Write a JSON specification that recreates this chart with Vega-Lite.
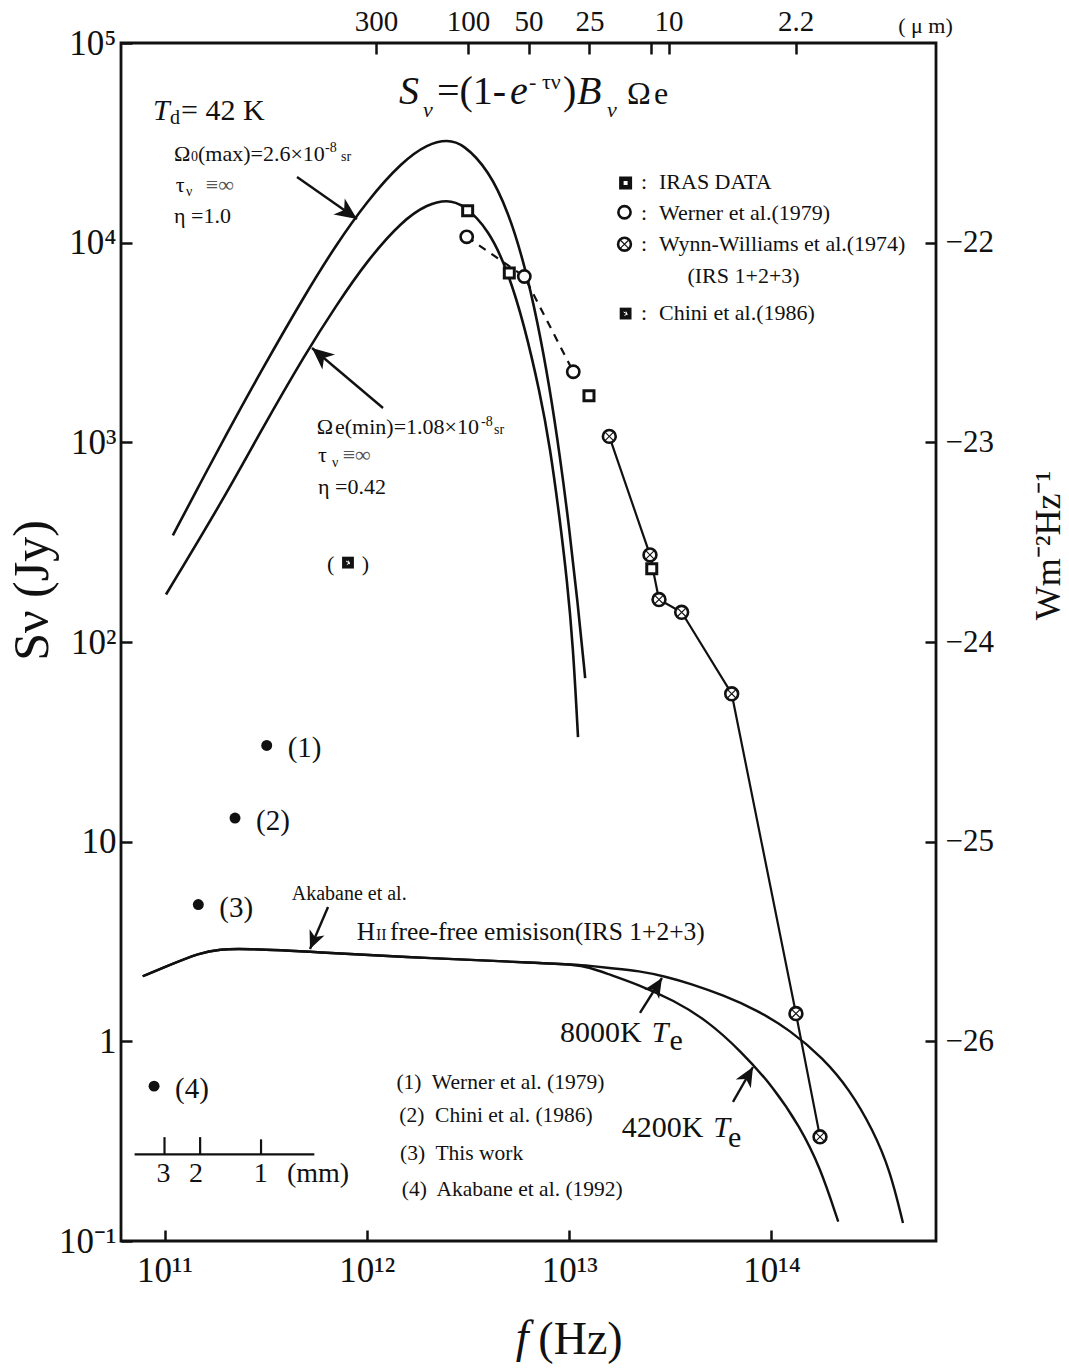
{
  "$schema": "https://vega.github.io/schema/vega-lite/v6.json",
  "width": 815,
  "height": 1198,
  "autosize": {"type": "none"},
  "padding": {"left": 121, "top": 43, "right": 133, "bottom": 131},
  "background": "white",
  "config": {
    "view": {"stroke": "#111", "strokeWidth": 2.8},
    "font": "Liberation Serif",
    "axis": {
      "grid": false, "domain": false, "ticks": true,
      "tickColor": "#111", "tickWidth": 2.5, "tickSize": -11,
      "labelFont": "Liberation Serif", "labelColor": "#111",
      "titleFont": "Liberation Serif", "titleColor": "#111", "titleFontWeight": "normal",
      "labelFlush": false, "labelOverlap": false, "labelBound": false
    }
  },
  "datasets": {
    "bbUpper": [
      {"f": 1.1e11, "S": 342}, {"f": 1.5e11, "S": 622}, {"f": 2e11, "S": 1074}, {"f": 3e11, "S": 2275},
      {"f": 5e11, "S": 5589}, {"f": 7e11, "S": 9647}, {"f": 1e12, "S": 16140}, {"f": 1.5e12, "S": 25550},
      {"f": 2e12, "S": 31220}, {"f": 2.5e12, "S": 32820}, {"f": 3e12, "S": 31200}, {"f": 4e12, "S": 23070},
      {"f": 5e12, "S": 14290}, {"f": 6e12, "S": 7843}, {"f": 7e12, "S": 3967}, {"f": 8e12, "S": 1891},
      {"f": 9e12, "S": 858}, {"f": 1e13, "S": 376}, {"f": 1.1e13, "S": 160}, {"f": 1.2e13, "S": 66}
    ],
    "bbLower": [
      {"f": 1.017e11, "S": 172.9}, {"f": 1.991e11, "S": 534.8}, {"f": 2.999e11, "S": 1144}, {"f": 5.004e11, "S": 2810},
      {"f": 7.04e11, "S": 4830}, {"f": 1.0017e12, "S": 8113}, {"f": 1.4916e12, "S": 12860}, {"f": 2.006e12, "S": 15640},
      {"f": 2.49e12, "S": 16380}, {"f": 2.988e12, "S": 15640}, {"f": 4.017e12, "S": 11600}, {"f": 4.985e12, "S": 7145},
      {"f": 5.98e12, "S": 3925}, {"f": 7.176e12, "S": 1772}, {"f": 8.04e12, "S": 951}, {"f": 9.01e12, "S": 405},
      {"f": 9.757e12, "S": 204.4}, {"f": 1.0447e13, "S": 96.6}, {"f": 1.106e13, "S": 33.4}
    ],
    "ff8000": [
      {"f": 7.8e10, "S": 2.118}, {"f": 1.0254e11, "S": 2.377}, {"f": 1.498e11, "S": 2.78}, {"f": 1.881e11, "S": 2.89},
      {"f": 2.452e11, "S": 2.916}, {"f": 5.437e11, "S": 2.804}, {"f": 2.131e12, "S": 2.598}, {"f": 7.177e12, "S": 2.47},
      {"f": 1.0483e13, "S": 2.425}, {"f": 1.268e13, "S": 2.39}, {"f": 1.533e13, "S": 2.332}, {"f": 2.239e13, "S": 2.253},
      {"f": 3.034e13, "S": 2.102}, {"f": 3.956e13, "S": 1.948}, {"f": 5.78e13, "S": 1.702}, {"f": 8.454e13, "S": 1.436},
      {"f": 1.2345e14, "S": 1.139}, {"f": 1.797e14, "S": 0.8254}, {"f": 2.443e14, "S": 0.5706}, {"f": 3.175e14, "S": 0.3597},
      {"f": 3.852e14, "S": 0.2268}, {"f": 4.466e14, "S": 0.1231}
    ],
    "ff4200": [
      {"f": 7.8e10, "S": 2.118}, {"f": 1.0254e11, "S": 2.377}, {"f": 1.498e11, "S": 2.78}, {"f": 1.881e11, "S": 2.89},
      {"f": 2.452e11, "S": 2.916}, {"f": 5.437e11, "S": 2.804}, {"f": 2.131e12, "S": 2.598}, {"f": 7.177e12, "S": 2.47},
      {"f": 1.0483e13, "S": 2.425}, {"f": 1.268e13, "S": 2.344}, {"f": 1.533e13, "S": 2.186}, {"f": 2.239e13, "S": 1.91},
      {"f": 3.271e13, "S": 1.607}, {"f": 4.785e13, "S": 1.276}, {"f": 6.99e13, "S": 0.9031}, {"f": 1.021e14, "S": 0.5916},
      {"f": 1.383e14, "S": 0.373}, {"f": 1.737e14, "S": 0.2353}, {"f": 2.138e14, "S": 0.1249}
    ],
    "sym": [
      {"sym": "iras", "src": "d", "f": 3.15e12, "S": 14430},
      {"sym": "iras", "src": "d", "f": 5.06e12, "S": 7039},
      {"sym": "iras", "src": "d", "f": 1.253e13, "S": 1712},
      {"sym": "iras", "src": "d", "f": 2.56e13, "S": 232.4},
      {"sym": "iras", "src": "leg", "f": 1.901e13, "S": 19880},
      {"sym": "werner", "src": "d", "f": 3.116e12, "S": 10700},
      {"sym": "werner", "src": "d", "f": 6.003e12, "S": 6769},
      {"sym": "werner", "src": "d", "f": 1.048e13, "S": 2257},
      {"sym": "werner", "src": "leg", "f": 1.877e13, "S": 14200},
      {"sym": "ww", "src": "d", "f": 1.579e13, "S": 1071},
      {"sym": "ww", "src": "d", "f": 2.509e13, "S": 273.1},
      {"sym": "ww", "src": "d", "f": 2.78e13, "S": 163.2},
      {"sym": "ww", "src": "d", "f": 3.598e13, "S": 140.9},
      {"sym": "ww", "src": "d", "f": 6.358e13, "S": 55.05},
      {"sym": "ww", "src": "d", "f": 1.321e14, "S": 1.378},
      {"sym": "ww", "src": "d", "f": 1.737e14, "S": 0.3324},
      {"sym": "ww", "src": "leg", "f": 1.877e13, "S": 9820},
      {"sym": "chini", "src": "d", "f": 8.07e11, "S": 249.8},
      {"sym": "chini", "src": "leg", "f": 1.901e13, "S": 4415}
    ],
    "dots": [
      {"f": 3.2e11, "S": 30.34, "lbl": "(1)"},
      {"f": 2.231e11, "S": 13.13, "lbl": "(2)"},
      {"f": 1.469e11, "S": 4.84, "lbl": "(3)"},
      {"f": 8.88e10, "S": 0.5965, "lbl": "(4)"}
    ],
    "arrows": [
      {"id": "a", "f": 8.94e11, "S": 13140, "f2": 4.518e11, "S2": 21320},
      {"id": "b", "f": 5.358e11, "S": 2968, "f2": 1.2021e12, "S2": 1486},
      {"id": "c", "f": 5.237e11, "S": 2.901, "f2": 6.43e11, "S2": 4.708},
      {"id": "d", "f": 2.876e13, "S": 2.076, "f2": 2.239e13, "S2": 1.387},
      {"id": "e", "f": 8.1e13, "S": 0.7437, "f2": 6.453e13, "S2": 0.497}
    ],
    "mm": [
      {"f": 7.115e10, "S": 0.2716, "f2": 5.501e11, "S2": 0.2716},
      {"f": 1e11, "S": 0.2716, "f2": 1e11, "S2": 0.3313},
      {"f": 1.5e11, "S": 0.2716, "f2": 1.5e11, "S2": 0.3313},
      {"f": 3e11, "S": 0.2716, "f2": 3e11, "S2": 0.3229}
    ],
    "texts": [
      {"g": "i40", "t": "S", "f": 1.442e12, "S": 49510},
      {"g": "i22", "t": "ν", "f": 1.895e12, "S": 42630},
      {"g": "n40", "t": "=(1-", "f": 2.222e12, "S": 49510},
      {"g": "i40", "t": "e", "f": 5.1e12, "S": 49510},
      {"g": "n22", "t": "-", "f": 6.332e12, "S": 58870},
      {"g": "n22", "t": "τν", "f": 7.34e12, "S": 58870},
      {"g": "n40", "t": ")", "f": 9.322e12, "S": 49510},
      {"g": "i40", "t": "B", "f": 1.0935e13, "S": 49510},
      {"g": "i22", "t": "ν", "f": 1.538e13, "S": 42630},
      {"g": "n32", "t": "Ω", "f": 1.931e13, "S": 49510},
      {"g": "n32", "t": "e", "f": 2.627e13, "S": 49510},
      {"g": "i30", "t": "T", "f": 8.776e10, "S": 41190},
      {"g": "n20", "t": "d", "f": 1.065e11, "S": 39330},
      {"g": "n30", "t": "= 42 K", "f": 1.207e11, "S": 41190},
      {"g": "n22", "t": "Ω", "f": 1.114e11, "S": 25670},
      {"g": "s14", "t": "0", "f": 1.352e11, "S": 25670},
      {"g": "n22", "t": "(max)=2.6×10", "f": 1.464e11, "S": 25670},
      {"g": "s14", "t": "-8", "f": 6.214e11, "S": 28480},
      {"g": "s14", "t": "sr", "f": 7.454e11, "S": 25670},
      {"g": "n22", "t": "τ", "f": 1.135e11, "S": 17970},
      {"g": "s14", "t": "ν", "f": 1.277e11, "S": 17160},
      {"g": "g22", "t": "≡∞", "f": 1.6e11, "S": 17970},
      {"g": "n22", "t": "η =1.0", "f": 1.114e11, "S": 12570},
      {"g": "n22", "t": "Ω", "f": 5.651e11, "S": 1105},
      {"g": "n22", "t": "e(min)=1.08×10", "f": 6.962e11, "S": 1105},
      {"g": "s14", "t": "-8", "f": 3.667e12, "S": 1212},
      {"g": "s14", "t": "sr", "f": 4.253e12, "S": 1105},
      {"g": "n22", "t": "τ", "f": 5.736e11, "S": 793.6},
      {"g": "s14", "t": "ν", "f": 6.73e11, "S": 755.2},
      {"g": "g22", "t": "≡∞", "f": 7.6e11, "S": 793.6},
      {"g": "n22", "t": "η =0.42", "f": 5.736e11, "S": 551.4},
      {"g": "n22", "t": ":", "f": 2.265e13, "S": 18510},
      {"g": "n22", "t": ":", "f": 2.265e13, "S": 12960},
      {"g": "n22", "t": ":", "f": 2.265e13, "S": 9070},
      {"g": "n22", "t": ":", "f": 2.265e13, "S": 4110},
      {"g": "n22", "t": "IRAS DATA", "f": 2.78e13, "S": 18510},
      {"g": "n22", "t": "Werner et al.(1979)", "f": 2.78e13, "S": 12960},
      {"g": "n22", "t": "Wynn-Williams et al.(1974)", "f": 2.78e13, "S": 9070},
      {"g": "n22", "t": "(IRS 1+2+3)", "f": 3.841e13, "S": 6252},
      {"g": "n22", "t": "Chini et al.(1986)", "f": 2.78e13, "S": 4110},
      {"g": "n20", "t": "Akabane et al.", "f": 4.253e11, "S": 5.127},
      {"g": "n24", "t": "H", "f": 8.91e11, "S": 3.234},
      {"g": "s16", "t": "II", "f": 1.11e12, "S": 3.234},
      {"g": "n24", "t": "free-free emisison(IRS 1+2+3)", "f": 1.3017e12, "S": 3.234},
      {"g": "n30", "t": "8000K", "f": 9.01e12, "S": 0.9935},
      {"g": "i30", "t": "T", "f": 2.558e13, "S": 0.9935},
      {"g": "n30", "t": "e", "f": 3.134e13, "S": 0.9031},
      {"g": "n30", "t": "4200K", "f": 1.818e13, "S": 0.3324},
      {"g": "i30", "t": "T", "f": 5.157e13, "S": 0.3324},
      {"g": "n30", "t": "e", "f": 6.095e13, "S": 0.2962},
      {"g": "n21", "t": "(1)\u00a0 Werner et al. (1979)", "f": 1.4005e12, "S": 0.5762},
      {"g": "n21", "t": "(2)\u00a0 Chini et al. (1986)", "f": 1.447e12, "S": 0.394},
      {"g": "n21", "t": "(3)\u00a0 This work", "f": 1.4585e12, "S": 0.2542},
      {"g": "n21", "t": "(4)\u00a0 Akabane et al. (1992)", "f": 1.489e12, "S": 0.1679},
      {"g": "mm", "t": "3", "f": 9.9e10, "S": 0.1973},
      {"g": "mm", "t": "2", "f": 1.431e11, "S": 0.1973},
      {"g": "mm", "t": "1", "f": 2.989e11, "S": 0.1973},
      {"g": "mm", "t": "(mm)", "f": 5.736e11, "S": 0.1973},
      {"g": "i46", "t": "f", "f": 5.45e12, "S": 0.0278}
    ]
  },
  "resolve": {"scale": {"x": "independent", "y": "independent"}, "axis": {"x": "independent", "y": "independent"}},
  "layer": [
    {
      "encoding": {
        "x": {
          "field": "f", "type": "quantitative",
          "scale": {"type": "log", "domain": [6.095e10, 6.503e14], "nice": false, "zero": false},
          "axis": {
            "orient": "bottom", "values": [1e11, 1e12, 1e13, 1e14],
            "labelExpr": "datum.value < 5e11 ? '10¹¹' : datum.value < 5e12 ? '10¹²' : datum.value < 5e13 ? '10¹³' : '10¹⁴'",
            "labelFontSize": 35, "labelPadding": 23,
            "title": "(Hz)", "titleFontSize": 46, "titleX": 459, "titleY": 112,
            "titleAlign": "center", "titleBaseline": "alphabetic", "titleAnchor": null
          }
        },
        "y": {
          "field": "S", "type": "quantitative",
          "scale": {"type": "log", "domain": [0.1, 100000], "nice": false, "zero": false},
          "axis": {
            "orient": "left", "values": [0.1, 1, 10, 100, 1000, 10000, 100000],
            "labelExpr": "datum.value < 0.5 ? '10⁻¹' : datum.value < 5 ? '1' : datum.value < 50 ? '10' : datum.value < 500 ? '10²' : datum.value < 5000 ? '10³' : datum.value < 50000 ? '10⁴' : '10⁵'",
            "labelFontSize": 35, "labelPadding": 16,
            "title": "Sν (Jy)", "titleFontSize": 50, "titleAngle": -90, "titleX": -74, "titleY": 547,
            "titleAlign": "center", "titleBaseline": "alphabetic"
          }
        }
      },
      "layer": [
        {"data": {"name": "bbUpper"}, "mark": {"type": "line", "color": "#111", "strokeWidth": 2.6, "interpolate": "basis"}},
        {"data": {"name": "bbLower"}, "mark": {"type": "line", "color": "#111", "strokeWidth": 2.6, "interpolate": "basis"}},
        {"data": {"name": "ff8000"}, "mark": {"type": "line", "color": "#111", "strokeWidth": 2.4, "interpolate": "basis"}},
        {"data": {"name": "ff4200"}, "mark": {"type": "line", "color": "#111", "strokeWidth": 2.4, "interpolate": "basis"}},
        {"data": {"name": "sym"}, "transform": [{"filter": "datum.sym === 'werner' && datum.src === 'd'"}],
         "mark": {"type": "line", "color": "#111", "strokeWidth": 2.2, "strokeDash": [8, 7]}},
        {"data": {"name": "sym"}, "transform": [{"filter": "datum.sym === 'ww' && datum.src === 'd'"}],
         "mark": {"type": "line", "color": "#111", "strokeWidth": 2.2}},
        {"data": {"name": "arrows"}, "mark": {"type": "rule", "color": "#111", "strokeWidth": 2.4},
         "encoding": {"x2": {"field": "f2"}, "y2": {"field": "S2"}}},
        {"data": {"name": "arrows"}, "transform": [{"filter": "datum.id === 'a'"}],
         "mark": {"type": "point", "shape": "M0,0L-1,-0.45L-0.72,0L-1,0.45Z", "size": 1900, "angle": 35, "filled": true, "fill": "#111", "strokeWidth": 0, "opacity": 1}},
        {"data": {"name": "arrows"}, "transform": [{"filter": "datum.id === 'b'"}],
         "mark": {"type": "point", "shape": "M0,0L-1,-0.45L-0.72,0L-1,0.45Z", "size": 1900, "angle": 220, "filled": true, "fill": "#111", "strokeWidth": 0, "opacity": 1}},
        {"data": {"name": "arrows"}, "transform": [{"filter": "datum.id === 'c'"}],
         "mark": {"type": "point", "shape": "M0,0L-1,-0.45L-0.72,0L-1,0.45Z", "size": 1300, "angle": 113, "filled": true, "fill": "#111", "strokeWidth": 0, "opacity": 1}},
        {"data": {"name": "arrows"}, "transform": [{"filter": "datum.id === 'd'"}],
         "mark": {"type": "point", "shape": "M0,0L-1,-0.45L-0.72,0L-1,0.45Z", "size": 1500, "angle": 302, "filled": true, "fill": "#111", "strokeWidth": 0, "opacity": 1}},
        {"data": {"name": "arrows"}, "transform": [{"filter": "datum.id === 'e'"}],
         "mark": {"type": "point", "shape": "M0,0L-1,-0.45L-0.72,0L-1,0.45Z", "size": 1500, "angle": 300, "filled": true, "fill": "#111", "strokeWidth": 0, "opacity": 1}},
        {"data": {"name": "mm"}, "mark": {"type": "rule", "color": "#111", "strokeWidth": 2.2},
         "encoding": {"x2": {"field": "f2"}, "y2": {"field": "S2"}}},
        {"data": {"name": "sym"}, "transform": [{"filter": "datum.sym === 'werner'"}],
         "mark": {"type": "point", "shape": "circle", "size": 150, "filled": true, "fill": "white", "stroke": "#111", "strokeWidth": 2.6, "opacity": 1}},
        {"data": {"name": "sym"}, "transform": [{"filter": "datum.sym === 'ww'"}],
         "mark": {"type": "point", "shape": "circle", "size": 165, "filled": true, "fill": "white", "stroke": "#111", "strokeWidth": 2.6, "opacity": 1}},
        {"data": {"name": "sym"}, "transform": [{"filter": "datum.sym === 'ww'"}],
         "mark": {"type": "point", "shape": "M-0.62,-0.62L0.62,0.62M-0.62,0.62L0.62,-0.62", "size": 165, "filled": false, "stroke": "#111", "strokeWidth": 1.1, "opacity": 1}},
        {"data": {"name": "sym"}, "transform": [{"filter": "datum.sym === 'iras' && datum.src === 'd'"}],
         "mark": {"type": "point", "shape": "square", "size": 100, "filled": true, "fill": "white", "stroke": "#111", "strokeWidth": 3, "opacity": 1}},
        {"data": {"name": "sym"}, "transform": [{"filter": "datum.sym === 'iras' && datum.src === 'leg'"}],
         "mark": {"type": "point", "shape": "square", "size": 72, "filled": true, "fill": "white", "stroke": "#111", "strokeWidth": 4.5, "opacity": 1}},
        {"data": {"name": "sym"}, "transform": [{"filter": "datum.sym === 'chini'"}],
         "mark": {"type": "point", "shape": "square", "size": 140, "filled": true, "fill": "#111", "strokeWidth": 0, "opacity": 1}},
        {"data": {"name": "sym"}, "transform": [{"filter": "datum.sym === 'chini'"}],
         "mark": {"type": "point", "shape": "M-0.5,-0.4L0.4,0.1L-0.3,0.5M0.1,-0.5L0.4,0.4", "size": 60, "filled": false, "stroke": "white", "strokeWidth": 1, "opacity": 1}},
        {"data": {"name": "sym"}, "transform": [{"filter": "datum.sym === 'chini' && datum.src === 'd'"}],
         "mark": {"type": "text", "fontSize": 22, "align": "center", "baseline": "middle", "dy": 1, "color": "#111"},
         "encoding": {"text": {"value": "(\u00a0\u00a0\u00a0\u00a0\u00a0)"}}},
        {"data": {"name": "dots"}, "mark": {"type": "point", "shape": "circle", "size": 120, "filled": true, "fill": "#111", "strokeWidth": 0, "opacity": 1}},
        {"data": {"name": "dots"}, "mark": {"type": "text", "fontSize": 29, "align": "left", "baseline": "middle", "dx": 21, "dy": 3, "color": "#111"},
         "encoding": {"text": {"field": "lbl"}}},
        {"data": {"name": "texts"}, "transform": [{"filter": "datum.g === 'n22'"}],
         "mark": {"type": "text", "fontSize": 22, "align": "left", "baseline": "alphabetic", "color": "#111"}, "encoding": {"text": {"field": "t"}}},
        {"data": {"name": "texts"}, "transform": [{"filter": "datum.g === 's14'"}],
         "mark": {"type": "text", "fontSize": 14, "align": "left", "baseline": "alphabetic", "color": "#111"}, "encoding": {"text": {"field": "t"}}},
        {"data": {"name": "texts"}, "transform": [{"filter": "datum.g === 's16'"}],
         "mark": {"type": "text", "fontSize": 16, "align": "left", "baseline": "alphabetic", "color": "#111"}, "encoding": {"text": {"field": "t"}}},
        {"data": {"name": "texts"}, "transform": [{"filter": "datum.g === 'g22'"}],
         "mark": {"type": "text", "fontSize": 22, "align": "left", "baseline": "alphabetic", "color": "#555"}, "encoding": {"text": {"field": "t"}}},
        {"data": {"name": "texts"}, "transform": [{"filter": "datum.g === 'i22'"}],
         "mark": {"type": "text", "fontSize": 22, "fontStyle": "italic", "align": "left", "baseline": "alphabetic", "color": "#111"}, "encoding": {"text": {"field": "t"}}},
        {"data": {"name": "texts"}, "transform": [{"filter": "datum.g === 'n20'"}],
         "mark": {"type": "text", "fontSize": 20, "align": "left", "baseline": "alphabetic", "color": "#111"}, "encoding": {"text": {"field": "t"}}},
        {"data": {"name": "texts"}, "transform": [{"filter": "datum.g === 'n21'"}],
         "mark": {"type": "text", "fontSize": 21.5, "align": "left", "baseline": "alphabetic", "color": "#111"}, "encoding": {"text": {"field": "t"}}},
        {"data": {"name": "texts"}, "transform": [{"filter": "datum.g === 'n24'"}],
         "mark": {"type": "text", "fontSize": 25.5, "align": "left", "baseline": "alphabetic", "color": "#111"}, "encoding": {"text": {"field": "t"}}},
        {"data": {"name": "texts"}, "transform": [{"filter": "datum.g === 'n30'"}],
         "mark": {"type": "text", "fontSize": 30, "align": "left", "baseline": "alphabetic", "color": "#111"}, "encoding": {"text": {"field": "t"}}},
        {"data": {"name": "texts"}, "transform": [{"filter": "datum.g === 'i30'"}],
         "mark": {"type": "text", "fontSize": 30, "fontStyle": "italic", "align": "left", "baseline": "alphabetic", "color": "#111"}, "encoding": {"text": {"field": "t"}}},
        {"data": {"name": "texts"}, "transform": [{"filter": "datum.g === 'n32'"}],
         "mark": {"type": "text", "fontSize": 32, "align": "left", "baseline": "alphabetic", "color": "#111"}, "encoding": {"text": {"field": "t"}}},
        {"data": {"name": "texts"}, "transform": [{"filter": "datum.g === 'n40'"}],
         "mark": {"type": "text", "fontSize": 40, "align": "left", "baseline": "alphabetic", "color": "#111"}, "encoding": {"text": {"field": "t"}}},
        {"data": {"name": "texts"}, "transform": [{"filter": "datum.g === 'i40'"}],
         "mark": {"type": "text", "fontSize": 40, "fontStyle": "italic", "align": "left", "baseline": "alphabetic", "color": "#111"}, "encoding": {"text": {"field": "t"}}},
        {"data": {"name": "texts"}, "transform": [{"filter": "datum.g === 'i46'"}],
         "mark": {"type": "text", "fontSize": 46, "fontStyle": "italic", "align": "left", "baseline": "alphabetic", "color": "#111"}, "encoding": {"text": {"field": "t"}}},
        {"data": {"name": "texts"}, "transform": [{"filter": "datum.g === 'mm'"}],
         "mark": {"type": "text", "fontSize": 28, "align": "center", "baseline": "alphabetic", "color": "#111"}, "encoding": {"text": {"field": "t"}}}
      ]
    },
    {
      "data": {"values": [{"f": 1e12, "S": 1}]},
      "mark": {"type": "point", "opacity": 0},
      "encoding": {
        "x": {
          "field": "f", "type": "quantitative",
          "scale": {"type": "log", "domain": [6.095e10, 6.503e14], "nice": false, "zero": false},
          "axis": {
            "orient": "top", "values": [1.11e12, 3.16e12, 6.3e12, 1.26e13, 2.54e13, 3.1e13, 1.317e14],
            "labelExpr": "datum.value < 2e12 ? '300' : datum.value < 4.5e12 ? '100' : datum.value < 9e12 ? '50' : datum.value < 2e13 ? '25' : datum.value < 2.8e13 ? '' : datum.value < 6e13 ? '10' : '2.2'",
            "labelFontSize": 29, "labelPadding": 18,
            "title": "( μ m)", "titleFontSize": 22, "titleAngle": 0, "titleX": 804, "titleY": -11,
            "titleAlign": "center", "titleBaseline": "alphabetic"
          }
        },
        "y": {
          "field": "S", "type": "quantitative",
          "scale": {"type": "log", "domain": [0.1, 100000], "nice": false, "zero": false},
          "axis": {
            "orient": "right", "values": [1, 10, 100, 1000, 10000],
            "labelExpr": "format(round(log(datum.value) / LN10) - 26, 'd')",
            "labelFontSize": 31, "labelPadding": 20,
            "title": "Wm⁻²Hz⁻¹", "titleFontSize": 36, "titleAngle": -90, "titleX": 123, "titleY": 502,
            "titleAlign": "center", "titleBaseline": "alphabetic"
          }
        }
      }
    }
  ]
}
